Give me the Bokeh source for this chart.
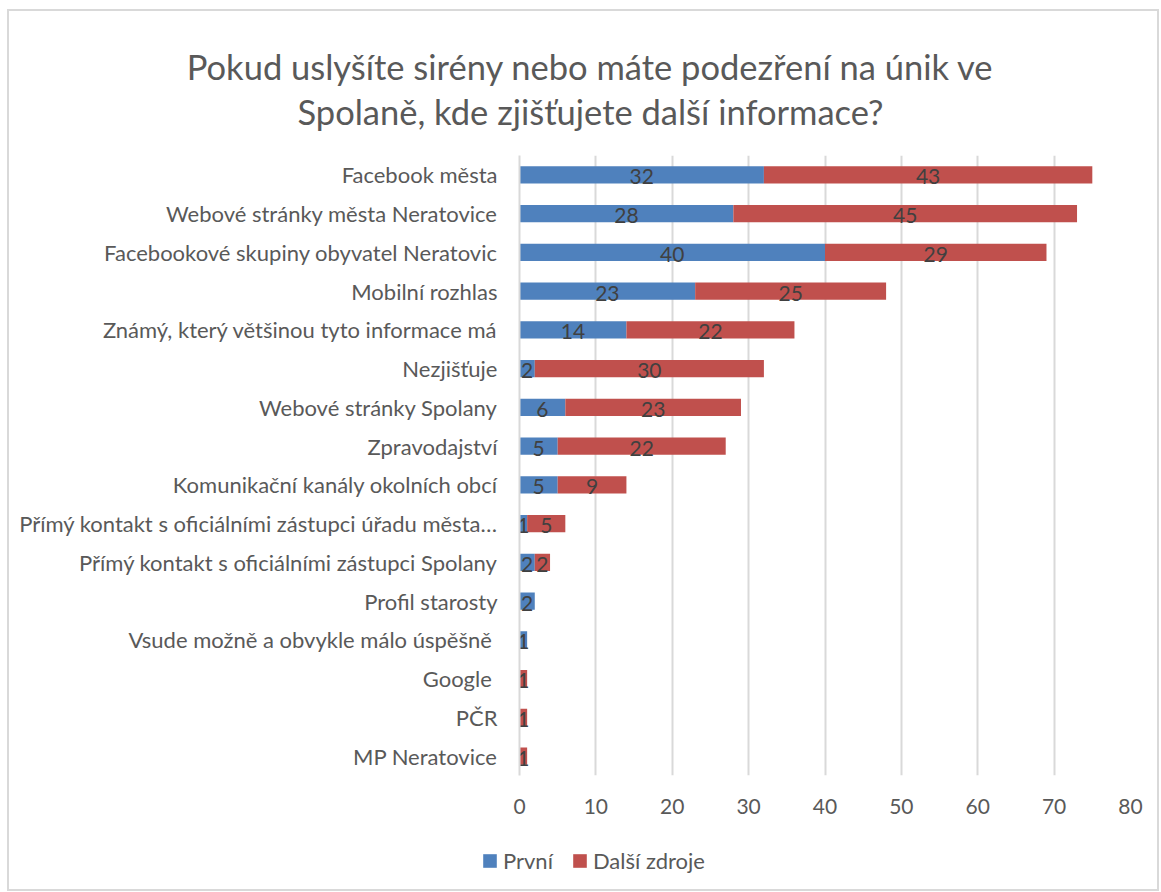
from bokeh.plotting import figure
from bokeh.layouts import column
from bokeh.models import (ColumnDataSource, FactorRange, Range1d, FixedTicker, Label,
                          Legend, LegendItem)
from bokeh.core.properties import value
from bokeh.embed import file_html
from bokeh.resources import INLINE

# ---- data ----
categories = [
    "Facebook města",
    "Webové stránky města Neratovice",
    "Facebookové skupiny obyvatel Neratovic",
    "Mobilní rozhlas",
    "Známý, který většinou tyto informace má",
    "Nezjišťuje",
    "Webové stránky Spolany",
    "Zpravodajství",
    "Komunikační kanály okolních obcí",
    "Přímý kontakt s oficiálními zástupci úřadu města…",
    "Přímý kontakt s oficiálními zástupci Spolany",
    "Profil starosty",
    "Vsude možně a obvykle málo úspěšně ",
    "Google ",
    "PČR",
    "MP Neratovice",
]
prvni = [32, 28, 40, 23, 14, 2, 6, 5, 5, 1, 2, 2, 1, 0, 0, 0]
dalsi = [43, 45, 29, 25, 22, 30, 23, 22, 9, 5, 2, 0, 0, 1, 1, 1]
series_names = ["První", "Další zdroje"]
series_colors = ["#4F81BD", "#C0504D"]
x_ticks = [0, 10, 20, 30, 40, 50, 60, 70, 80]
title_lines = ["Pokud uslyšíte sirény nebo máte podezření na únik ve",
               "Spolaně, kde zjišťujete další informace?"]

FONT = "Lato"
TXT = "#595959"
W = 1148


def bare(h):
    f = figure(width=W, height=h, output_backend="svg", toolbar_location=None,
               x_range=Range1d(0, 1), y_range=Range1d(0, 1),
               x_axis_type=None, y_axis_type=None, frame_align=False,
               min_border=0, min_border_left=0, min_border_right=0,
               min_border_top=0, min_border_bottom=0)
    f.title.visible = False
    f.outline_line_color = None
    f.grid.visible = False
    return f


# ---- title strip ----
pt = bare(144)
for txt, yy in zip(title_lines, [89, 44]):
    pt.add_layout(Label(x=581, y=yy, x_units="screen", y_units="screen", text=txt,
                        text_align="center", text_baseline="alphabetic",
                        text_font=FONT, text_font_size="34.5px", text_color=TXT))

# ---- main chart ----
p = figure(width=W, height=675, output_backend="svg", toolbar_location=None,
           x_range=Range1d(0, 80), y_range=FactorRange(factors=list(reversed(categories))),
           frame_align=False,
           min_border_left=510, min_border_right=27, min_border_top=0, min_border_bottom=55)
p.title.visible = False
p.outline_line_color = None

src = ColumnDataSource(dict(cat=categories, first=prvni, other=dalsi))
p.hbar_stack(["first", "other"], y="cat", height=0.44, color=series_colors,
             line_color=None, source=src)

lx, ly, lt = [], [], []
for c, a, b in zip(categories, prvni, dalsi):
    if a > 0:
        lx.append(a / 2); ly.append(c); lt.append(str(a))
    if b > 0:
        lx.append(a + b / 2); ly.append(c); lt.append(str(b))
lsrc = ColumnDataSource(dict(x=lx, y=ly, t=lt))
p.text(x="x", y="y", text="t", source=lsrc, text_align="center", text_baseline="middle",
       text_font=value(FONT), text_font_size="21px", text_color="#404040", y_offset=2)

p.xaxis.ticker = FixedTicker(ticks=x_ticks)
p.xaxis.axis_line_color = None
p.xaxis.major_tick_line_color = None
p.xaxis.minor_tick_line_color = None
p.xaxis.major_label_text_font = FONT
p.xaxis.major_label_text_font_size = "21px"
p.xaxis.major_label_text_color = TXT
p.xaxis.major_label_standoff = 17

p.yaxis.axis_line_color = "#d9d9d9"
p.yaxis.axis_line_width = 2
p.yaxis.major_tick_line_color = None
p.yaxis.minor_tick_line_color = None
p.yaxis.major_label_text_font = FONT
p.yaxis.major_label_text_font_size = "22px"
p.yaxis.major_label_text_color = TXT
p.yaxis.major_label_standoff = 16

p.xgrid.grid_line_color = "#d9d9d9"
p.xgrid.grid_line_width = 2
p.ygrid.grid_line_color = None

# ---- legend strip (legend proxies sit outside the visible range) ----
pl = bare(59)
proxy = ColumnDataSource(dict(y=[-5], left=[0], right=[1]))
r1 = pl.hbar(y="y", left="left", right="right", height=0.5, color=series_colors[0],
             line_color=None, source=proxy)
r2 = pl.hbar(y="y", left="left", right="right", height=0.5, color=series_colors[1],
             line_color=None, source=proxy)
lg = Legend(items=[LegendItem(label=series_names[0], renderers=[r1]),
                   LegendItem(label=series_names[1], renderers=[r2])],
            orientation="horizontal", location=(472, 15), padding=0, margin=0,
            spacing=18, glyph_width=17, glyph_height=17, label_standoff=5,
            label_text_font=FONT, label_text_font_size="22px", label_text_color=TXT,
            border_line_color=None, background_fill_alpha=0)
pl.add_layout(lg, "center")

layout = column(pt, p, pl, spacing=0,
                styles={"border": "2px solid #d9d9d9", "margin": "9px 0px 0px 7px"})

open("out.html", "w").write(file_html(layout, INLINE))
